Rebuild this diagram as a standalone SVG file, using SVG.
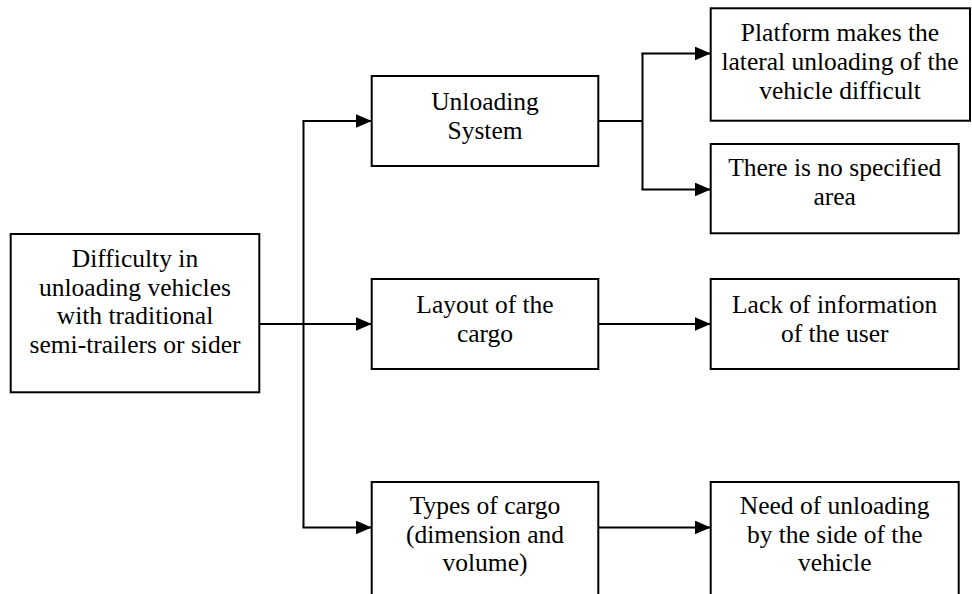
<svg xmlns="http://www.w3.org/2000/svg" width="972" height="594" viewBox="0 0 972 594">
  <defs>
    <marker id="arrow" viewBox="0 0 16 14" refX="16" refY="7" markerWidth="16" markerHeight="14" markerUnits="userSpaceOnUse" orient="auto">
      <path d="M0,0 L16,7 L0,14 Z" fill="#000"/>
    </marker>
    <style>
      .box { fill: #fff; stroke: #000; stroke-width: 2; }
      .lbl { font-family: "Liberation Serif", Tinos, "Times New Roman", Times, "Nimbus Roman", "Nimbus Roman No9 L", FreeSerif, "Noto Serif", "DejaVu Serif", serif; font-size: 25.5px; fill: #000; text-anchor: middle; }
      .link { fill: none; stroke: #000; stroke-width: 2; }
      .arr { marker-end: url(#arrow); }
    </style>
  </defs>
  <rect width="972" height="594" fill="#fff"/>

  <!-- connectors -->
  <g id="connectors">
    <line class="link arr" x1="259" y1="324" x2="371.7" y2="324"/>
    <polyline class="link" points="303.5,121 303.5,527.5"/>
    <line class="link arr" x1="302.5" y1="121" x2="371.7" y2="121"/>
    <line class="link arr" x1="302.5" y1="527.5" x2="371.7" y2="527.5"/>
    <line class="link" x1="598" y1="121" x2="642.5" y2="121"/>
    <polyline class="link" points="642.5,53.5 642.5,189.5"/>
    <line class="link arr" x1="641.5" y1="53.5" x2="710.7" y2="53.5"/>
    <line class="link arr" x1="641.5" y1="189.5" x2="710.7" y2="189.5"/>
    <line class="link arr" x1="598" y1="324" x2="710.7" y2="324"/>
    <line class="link arr" x1="598" y1="527.5" x2="710.7" y2="527.5"/>
  </g>

  <!-- root problem -->
  <g id="root">
    <rect class="box" x="10.7" y="234" width="248.6" height="158.3"/>
    <text class="lbl" x="135" y="267">Difficulty in</text>
    <text class="lbl" x="135" y="295.5">unloading vehicles</text>
    <text class="lbl" x="135" y="324">with traditional</text>
    <text class="lbl" x="135" y="352.5">semi-trailers or sider</text>
  </g>

  <!-- causes -->
  <g id="unloading-system">
    <rect class="box" x="371.7" y="76" width="226.6" height="90"/>
    <text class="lbl" x="485" y="110">Unloading</text>
    <text class="lbl" x="485" y="138.5">System</text>
  </g>
  <g id="cargo-layout">
    <rect class="box" x="371.7" y="279" width="226.6" height="90"/>
    <text class="lbl" x="485" y="313">Layout of the</text>
    <text class="lbl" x="485" y="341.5">cargo</text>
  </g>
  <g id="cargo-types">
    <rect class="box" x="371.7" y="482" width="226.6" height="130"/>
    <text class="lbl" x="485" y="514">Types of cargo</text>
    <text class="lbl" x="485" y="542.5">(dimension and</text>
    <text class="lbl" x="485" y="571">volume)</text>
  </g>

  <!-- consequences -->
  <g id="platform">
    <rect class="box" x="710.7" y="8.3" width="259.3" height="112.4"/>
    <text class="lbl" x="840" y="40.5">Platform makes the</text>
    <text class="lbl" x="840" y="69.5">lateral unloading of the</text>
    <text class="lbl" x="840" y="98.5">vehicle difficult</text>
  </g>
  <g id="no-area">
    <rect class="box" x="710.7" y="144" width="248" height="89.3"/>
    <text class="lbl" x="834.7" y="176">There is no specified</text>
    <text class="lbl" x="834.7" y="204.5">area</text>
  </g>
  <g id="user-info">
    <rect class="box" x="710.7" y="279" width="248" height="90"/>
    <text class="lbl" x="834.7" y="313">Lack of information</text>
    <text class="lbl" x="834.7" y="341.5">of the user</text>
  </g>
  <g id="side-unloading">
    <rect class="box" x="710.7" y="482" width="248" height="130"/>
    <text class="lbl" x="834.7" y="514">Need of unloading</text>
    <text class="lbl" x="834.7" y="542.5">by the side of the</text>
    <text class="lbl" x="834.7" y="571">vehicle</text>
  </g>
</svg>
